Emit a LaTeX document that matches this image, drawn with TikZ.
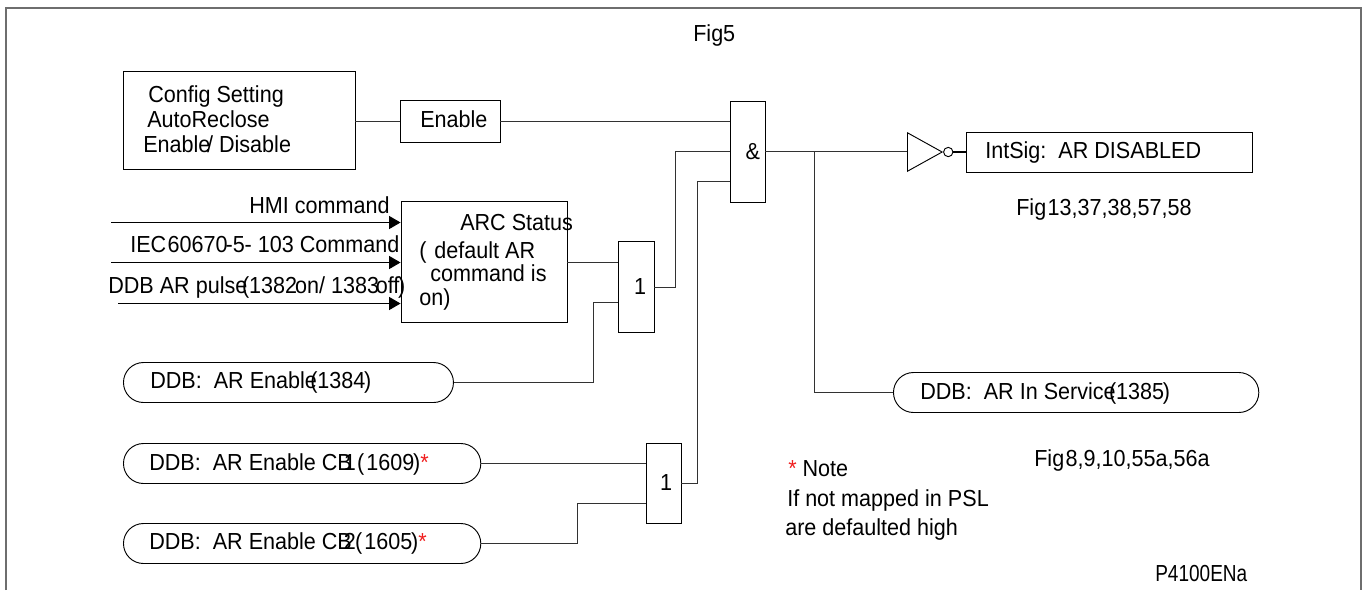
\documentclass[tikz,border=0pt]{standalone}
\usepackage{fontspec}
\setmainfont[FakeStretch=0.93]{Liberation Sans}
\newfontfamily\narrowfont[FakeStretch=0.82]{Liberation Sans}
\usepackage{xcolor}
\usetikzlibrary{arrows.meta,positioning,shapes.misc,shapes.geometric}
\definecolor{frameGray}{RGB}{110,110,110}
\definecolor{lineGray}{RGB}{50,50,50}
\definecolor{noteRed}{RGB}{240,30,30}
\tikzset{
  wire/.style={lineGray, line width=0.75pt},
  inwire/.style={black, line width=0.75pt, -{Triangle[length=8.6pt,width=9.8pt]}},
  box/.style={draw=black, line width=0.7pt, rectangle, inner sep=0pt},
  ddbnode/.style={draw=black, line width=0.7pt, rounded rectangle, inner sep=0pt, minimum height=30pt, minimum width=#1},
  lbl/.style={inner sep=0pt, anchor=base west},
  every node/.append style={font=\fontsize{17.4}{20}\selectfont},
}
\begin{document}
\begin{tikzpicture}[x=0.75pt,y=-0.75pt]
\useasboundingbox (0,0) rectangle (1362,590);
\draw[frameGray, line width=1.2pt] (6,590) -- (6,8) -- (1360.8,8) -- (1360.8,590);
\node[lbl] (figtop) at (693,41) {Fig5};

% setting branch
\node[box, minimum width=174pt, minimum height=74pt] (config) at (239,120.5) {};
\node[lbl] (cfgone) at (148,102) {Config Setting};
\node[lbl] (cfgtwo) at (147,127) {AutoReclose};
\node[lbl] (cfgthree) at (143,152) {Enable\kern-2.5pt/ Disable};
\node[box, minimum width=75pt, minimum height=31pt] (enable) at (450,121.5) {};
\node[lbl] (enablet) at (420,127) {Enable};

% command inputs
\node[box, minimum width=124.5pt, minimum height=90.4pt] (arc) at (484,262) {};
\node[lbl] (arcone) at (460,230) {ARC Status};
\node[lbl] (arctwo) at (419,258) {(\hspace{6pt}default AR};
\node[lbl] (arcthree) at (430,281) {command is};
\node[lbl] (arcfour) at (419,305) {on)};
\coordinate (hmifree) at (111,222.5);
\coordinate (iecfree) at (111,262.5);
\coordinate (pulsefree) at (118,303.5);
\draw[inwire] (hmifree) -- (hmifree -| arc.west);
\draw[inwire] (iecfree) -- (iecfree -| arc.west);
\draw[inwire] (pulsefree) -- (pulsefree -| arc.west);
\node[lbl] (hmi) at (249,213) {HMI command};
\node[lbl] (iec) at (130,252) {IEC\kern1pt 60670\kern-1.5pt-5- 103 Command};
\node[lbl] (pulse) at (108,293) {DDB AR pulse\kern-4pt(1382\kern-1.5pt on/ 1383\kern-2.5pt off\kern-1pt)};

% gates
\node[box, minimum width=27pt, minimum height=68pt] (orone) at (636,287) {\hspace*{6pt}1};
\node[box, minimum width=26.25pt, minimum height=60pt] (ortwo) at (663.5,483) {\hspace*{4pt}1};
\node[box, minimum width=26.25pt, minimum height=75.75pt] (andgate) at (747.5,151.5) {\hspace*{8pt}\&};

% ddb inputs
\node[ddbnode=247.5pt, anchor=west] (ddben) at (123,382.5) {};
\node[lbl] (ddbent) at (150,388.5) {DDB:\ \ AR Enable\kern-5pt(1384\kern-1pt)};
\node[ddbnode=268pt, anchor=west] (ddbcbone) at (123,463.5) {};
\node[lbl] (ddbcbonet) at (149,470) {DDB:\ \ AR Enable CB\kern-6pt 1\kern1pt(\kern1.5pt 1609\kern-1pt)\textcolor{noteRed}{*}};
\node[ddbnode=268pt, anchor=west] (ddbcbtwo) at (123,543.5) {};
\node[lbl] (ddbcbtwot) at (149,549) {DDB:\ \ AR Enable CB\kern-6pt 2\kern-.5pt(\kern1.5pt 1605\kern-1pt)\textcolor{noteRed}{*}};

% output side
\node[draw=black, line width=0.7pt, isosceles triangle, isosceles triangle apex angle=58, inner sep=0pt, minimum height=26pt, anchor=left corner] (inv) at (907,132) {};
\node[draw=black, line width=0.7pt, circle, inner sep=0pt, minimum size=7pt, right=0pt of inv.apex] (invdot) {};
\node[box, minimum width=215pt, minimum height=30pt] (intsig) at (1109.5,152) {};
\node[lbl] (intsigt) at (985,158) {IntSig:\ \ AR DISABLED};
\node[lbl] (figa) at (1016,215) {Fig\kern1pt 13,37,38,57,58};
\node[ddbnode=274pt, anchor=west] (ddbsvc) at (893,392.5) {};
\node[lbl] (ddbsvct) at (920,399) {DDB:\ \ AR In Service\kern-5pt(1385\kern-1pt)};
\node[lbl] (figb) at (1034,466) {Fig\kern1pt 8,9,10,55a,56a};
\node[lbl] (noteone) at (788,476) {\textcolor{noteRed}{*} Note};
\node[lbl] (notetwo) at (787,506) {If not mapped in PSL};
\node[lbl] (notethree) at (785,535) {are defaulted high};
\node[lbl, font=\narrowfont\fontsize{17.4}{20}\selectfont] (ref) at (1155,581) {P4100ENa};

% connectors
\draw[wire] (config.east |- enable) -- (enable);
\draw[wire] (enable) -- (andgate.west |- enable);
\coordinate (oronein) at (orone.west |- 0,262.5);
\draw[wire] (oronein -| arc.east) -- (oronein);
\coordinate (oronelow) at (orone.west |- 0,302.5);
\coordinate (orknee) at (593.5,0);
\draw[wire] (ddben.east) -| (orknee |- oronelow) -- (oronelow);
\coordinate (orbus) at (675.5,0);
\draw[wire] (orone.east) -| (orbus |- andgate.west) -- (andgate.west);
\coordinate (andlow) at (andgate.west |- 0,181.5);
\coordinate (andbus) at (697.5,0);
\draw[wire] (ortwo.east) -| (andbus |- andlow) -- (andlow);
\draw[wire] (ddbcbone.east) -- (ddbcbone.east -| ortwo.west);
\coordinate (twolow) at (ortwo.west |- 0,503.5);
\coordinate (twoknee) at (577.5,0);
\draw[wire] (ddbcbtwo.east) -| (twoknee |- twolow) -- (twolow);
\draw[wire] (andgate.east) -- (andgate.east -| inv.lower side);
\draw[black, line width=1.1pt] (invdot.east) -- (invdot.east -| intsig.west);
\coordinate (branch) at (814.5,151.5);
\draw[wire] (branch) |- (ddbsvc.west);
\end{tikzpicture}
\end{document}
